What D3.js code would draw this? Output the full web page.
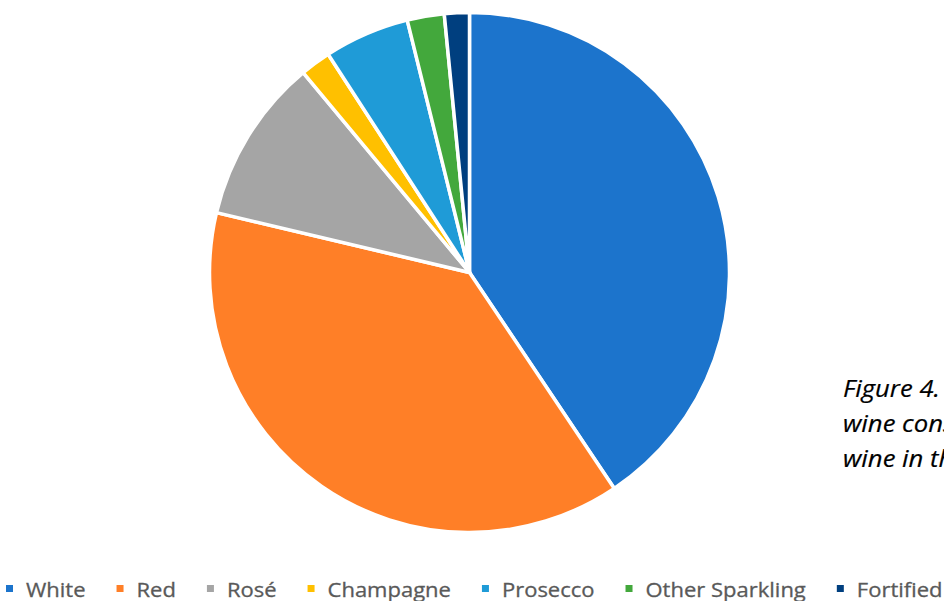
<!DOCTYPE html>
<html>
<head>
<meta charset="utf-8">
<script src="https://cdn.jsdelivr.net/npm/d3@7"></script>
<style>
  html, body { margin: 0; padding: 0; background: #fff; }
  svg { display: block; }
</style>
</head>
<body>
<svg id="chart" width="944" height="601"></svg>
<script>
// Share of wine consumed, by type (%)
const categories = ["White", "Red", "Rosé", "Champagne", "Prosecco", "Other Sparkling", "Fortified"];
const shares = [40.6, 38.1, 10.25, 1.9, 5.3, 2.3, 1.55];
const colors = ["#1C74CC", "#FF7F27", "#A5A5A5", "#FFC000", "#1F9BD7", "#43A83C", "#003F7F"];
const captionLines = ["Figure 4.", "wine consumption", "wine in the"];

const svg = d3.select("#chart");
const cx = 469.5, cy = 272.5, radius = 260;

const pie = d3.pie().sort(null).value(d => d.value);
const arc = d3.arc().innerRadius(0).outerRadius(radius);
const color = d3.scaleOrdinal().domain(categories).range(colors);

const data = categories.map((c, i) => ({ name: c, value: shares[i] }));

svg.append("g")
  .attr("transform", `translate(${cx},${cy})`)
  .selectAll("path")
  .data(pie(data))
  .join("path")
  .attr("d", arc)
  .attr("fill", d => color(d.data.name))
  .attr("stroke", "#fff")
  .attr("stroke-width", 3.5)
  .attr("stroke-linejoin", "round");

// Caption at the right, running off the page edge
svg.append("g")
  .selectAll("text")
  .data(captionLines)
  .join("text")
  .attr("transform", (d, i) => `translate(843,${397 + i * 35}) scale(1.07,1)`)
  .attr("font-family", "'Open Sans', sans-serif")
  .attr("font-style", "italic")
  .attr("font-size", 24)
  .attr("fill", "#000")
  .attr("stroke", "#000")
  .attr("stroke-width", 0.2)
  .text(d => d);

// Legend along the bottom
const legend = svg.append("g").attr("transform", "translate(6,597)");
const fontSize = 20;
const stretch = 1.1;
let x = 0;
categories.forEach((c, i) => {
  const item = legend.append("g").attr("transform", `translate(${x},0)`);
  item.append("rect")
    .attr("x", 0).attr("y", -12)
    .attr("width", 7).attr("height", 7)
    .attr("fill", color(c));
  const t = item.append("text")
    .attr("transform", `translate(20,0) scale(${stretch},1)`)
    .attr("font-family", "'Open Sans', sans-serif")
    .attr("font-size", fontSize)
    .attr("fill", "#595959")
    .attr("stroke", "#595959")
    .attr("stroke-width", 0.3)
    .text(c);
  const w = t.node().getComputedTextLength() * stretch;
  x += 20 + w + 31;
});
</script>
</body>
</html>
